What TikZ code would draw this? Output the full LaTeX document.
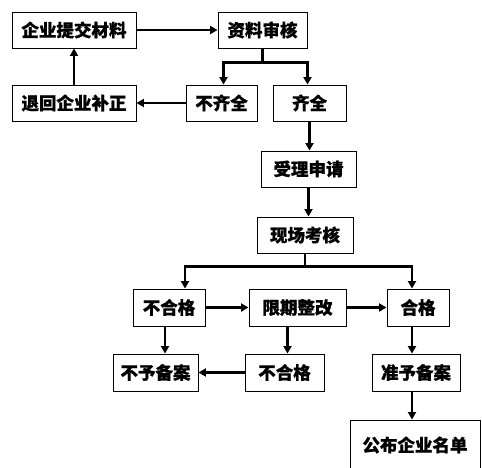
\documentclass[tikz,border=0pt]{standalone}
\usepackage{fontspec}
\newfontfamily\cjk{Noto Sans CJK SC}[BoldFeatures={FakeBold=0.8}]
\usepackage{tikz}
\usetikzlibrary{arrows.meta,positioning,calc}

\tikzset{
  box/.style={draw, line width=0.9pt, minimum height=36, inner sep=0pt,
    font=\cjk\bfseries\fontsize{17.5}{17.5}\selectfont},
  flow/.style={line width=2.5pt, -{Triangle[length=7.5pt,width=8pt]}},
}

\begin{document}
\begin{tikzpicture}[x=1pt, y=-1pt]
  \useasboundingbox (0,0) rectangle (482,468);
  \clip (0,0) rectangle (482,468);

  % Define coordinates for nodes
  \node[box, minimum width=124] (qytj) at (74, 30) {企业提交材料};
  \node[box, minimum width=89] (zlsh) at (262.5, 30) {资料审核};
  \node[box, minimum width=124] (thbz) at (74, 103) {退回企业补正};
  \node[box, minimum width=71] (bqq) at (221.5, 103) {不齐全};
  \node[box, minimum width=73] (qq) at (309.5, 103) {齐全};
  \node[box, minimum width=95] (slsq) at (308.5, 169) {受理申请};
  \node[box, minimum width=96] (xckh) at (305, 235) {现场考核};
  \node[box, minimum width=72, minimum height=37] (bhg) at (169, 307.5) {不合格};
  \node[box, minimum width=97, minimum height=37] (xqzg) at (297.5, 307.5) {限期整改};
  \node[box, minimum width=62, minimum height=37] (hg) at (418, 307.5) {合格};
  \node[box, minimum width=85, minimum height=37] (byba) at (155.5, 372.5) {不予备案};
  \node[box, minimum width=79, minimum height=37] (bhgb) at (284.5, 372.5) {不合格};
  \node[box, minimum width=88, minimum height=37] (zyba) at (416, 372.5) {准予备案};
  \node[box, minimum width=130, minimum height=50] (gbmd) at (415, 445) {公布企业名单};

  % Split points
  \coordinate (s1) at ($(zlsh.south)+(0,14)$);
  \coordinate (s2) at ($(xckh.south)+(0,13)$);

  % Draw arrows between nodes
  \draw[flow] (qytj) -- (zlsh);
  \draw[line width=2.5pt] (zlsh.south) -- (s1);
  \draw[flow] (s1) -| ([xshift=2]bqq.north);
  \draw[flow] (s1) -| ([xshift=-2]qq.north);
  \draw[flow] (bqq) -- (thbz);
  \draw[flow] (thbz) -- (qytj);
  \draw[flow] (qq.south) -- (qq.south |- slsq.north);
  \draw[flow] (slsq.south) -- (slsq.south |- xckh.north);
  \draw[line width=2.5pt] (xckh.south) -- (s2);
  \draw[flow] (s2) -| ([xshift=16]bhg.north);
  \draw[flow] (s2) -| ([xshift=-6]hg.north);
  \draw[flow] (bhg) -- (xqzg);
  \draw[flow] (xqzg) -- (hg);
  \draw[flow] ([xshift=-4]bhg.south) -- ([xshift=-4]bhg.south |- byba.north);
  \draw[flow] ([xshift=-10]xqzg.south) -- ([xshift=-10]xqzg.south |- bhgb.north);
  \draw[flow] (bhgb) -- (byba);
  \draw[flow] ([xshift=-6]hg.south) -- ([xshift=-6]hg.south |- zyba.north);
  \draw[flow] ([xshift=-4]zyba.south) -- ([xshift=-4]zyba.south |- gbmd.north);
\end{tikzpicture}
\end{document}
